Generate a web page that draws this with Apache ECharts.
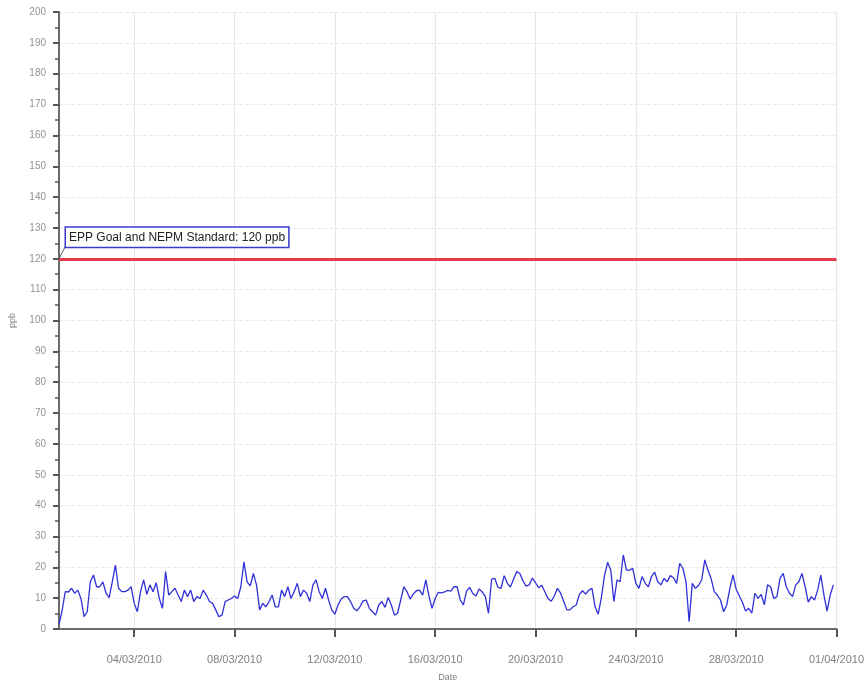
<!DOCTYPE html>
<html>
<head>
<meta charset="utf-8">
<script src="https://cdn.jsdelivr.net/npm/echarts@6/dist/echarts.min.js"></script>
<style>
html,body{margin:0;padding:0;background:#fff;}
#chart{width:867px;height:687px;}
</style>
</head>
<body>
<div id="chart"></div>
<script>
// ---- Data (ozone, ppb, 3-hourly from 01/03/2010 00:00) ----
var startDate = '2010-03-01';
var stepHours = 3;
var ozone = [
  1.5, 6, 12.1, 12, 13.2, 11.6, 12.6, 9.9, 4, 5.6, 15.3, 17.5, 13.7, 13.7, 15.3, 11.6,
  10.2, 15.3, 20.7, 13.2, 12.1, 12.1, 12.6, 13.7, 8.3, 5.6, 12.1, 15.9, 11.2, 14.3, 12.1, 15,
  9.9, 6.7, 18.6, 11, 12.1, 13.2, 11, 8.9, 12.6, 10.5, 12.6, 8.9, 10.5, 9.9, 12.6, 11,
  8.9, 8.3, 6.2, 4, 4.5, 8.9, 9.4, 9.9, 10.7, 9.9, 13.7, 21.8, 15.3, 14, 18, 14.3,
  6.2, 8.3, 7.2, 8.9, 11, 7.2, 7.2, 12.6, 10.5, 13.7, 9.9, 12.1, 14.8, 10.5, 12.6, 11.6,
  8.9, 14.3, 15.9,
  12.1, 9.9, 13.2, 9.4, 6.2, 4.8, 7.8, 9.7, 10.5, 10.5, 8.9, 6.7, 5.9, 7.2, 9.1, 9.4,
  6.7, 5.6, 4.5, 7.8, 8.9, 7, 10.2, 7.8, 4.5, 5.1, 9.4, 13.7, 12.1, 9.7, 11.3, 12.4,
  12.6, 11, 15.9, 10.7, 6.7, 9.9, 11.9, 11.7, 12, 12.5, 12.3, 13.7, 13.7, 9.4, 7.8, 12.3,
  13.5, 11.5, 10.7, 13, 12, 10.5, 5.1, 16.2, 16.4, 13.6, 13.2, 17.3, 14.8, 13.6, 16.1, 18.6,
  18, 15.6, 13.9, 14.3, 16.5, 15, 13.4, 14.2, 12, 9.9, 9, 10.7, 13.2, 11.6, 8.9, 6.2,
  6.2, 7.2, 7.8,
  11.2, 12.4, 11.3, 12.6, 13.2, 7.2, 4.8, 10.2, 17.3, 21.6, 19.1, 8.9, 15.9, 15.3, 24, 19.1,
  19.1, 19.7, 14.8, 13.2, 17, 14.8, 13.7, 17, 18.4, 15.3, 14.3, 16.4, 15.3, 17.3, 16.6, 14.8,
  21.3, 19.7, 15.3, 2.4, 14.8, 13.2, 14.1, 15.9, 22.4, 19.1, 16.4, 12.1, 11, 9.4, 5.6, 7.8,
  13.2, 17.5, 12.9, 10.8, 8.7, 5.8, 6.7, 5.1, 11.6, 9.9, 11.2, 7.8, 14.3, 13.7, 9.9, 10.5,
  16.4, 18, 13.7, 11.6, 10.5, 14.3, 15.3, 18, 13.7, 8.7, 10.5, 9.4, 12.6, 17.5, 11, 5.8,
  11, 14.3
];
var standardValue = 120;
var standardLabel = 'EPP Goal and NEPM Standard: 120 ppb';
var yAxisName = 'ppb';
var xAxisName = 'Date';

// ---- Build categories (one extra for the axis end, 01/04/2010) ----
function pad(n){ return (n < 10 ? '0' : '') + n; }
var categories = [];
var t0 = Date.UTC(2010, 2, 1, 0, 0, 0);
for (var i = 0; i <= ozone.length; i++) {
  var d = new Date(t0 + i * stepHours * 3600 * 1000);
  categories.push(pad(d.getUTCDate()) + '/' + pad(d.getUTCMonth() + 1) + '/' + d.getUTCFullYear() + ' ' + pad(d.getUTCHours()) + ':00');
}
var seriesData = ozone.slice();
seriesData.push(null);

var perDay = 24 / stepHours;
function isTick(idx) {
  // every 4 days starting 04/03/2010
  return idx >= 3 * perDay && (idx - 3 * perDay) % (4 * perDay) === 0;
}

var chart = echarts.init(document.getElementById('chart'), null, {renderer: 'canvas'});
chart.setOption({
  backgroundColor: '#ffffff',
  animation: false,
  grid: {left: 57, right: 29, top: 12, bottom: 58, containLabel: false},
  xAxis: {
    type: 'category',
    data: categories,
    boundaryGap: false,
    name: xAxisName,
    nameLocation: 'middle',
    nameGap: 44,
    nameTextStyle: {color: '#808080', fontSize: 9, fontFamily: 'Liberation Sans'},
    axisLine: {lineStyle: {color: '#6b6b6b', width: 2}},
    axisTick: {show: true, interval: function (idx) { return isTick(idx); }, length: 8, lineStyle: {color: '#555', width: 2}},
    axisLabel: {
      interval: function (idx) { return isTick(idx); },
      formatter: function (v) { return v.split(' ')[0]; },
      color: '#808080', fontSize: 11, margin: 25, fontFamily: 'Liberation Sans'
    },
    splitLine: {show: true, interval: function (idx) { return isTick(idx); }, lineStyle: {color: '#e6e6e6', width: 1}}
  },
  yAxis: {
    type: 'value',
    min: 0, max: 200, interval: 10,
    name: yAxisName,
    nameLocation: 'middle',
    nameGap: 42,
    nameRotate: 90,
    nameTextStyle: {color: '#808080', fontSize: 9, fontFamily: 'Liberation Sans'},
    axisLine: {show: true, lineStyle: {color: '#6b6b6b', width: 2}},
    axisTick: {show: true, length: 6, lineStyle: {color: '#555', width: 2}},
    minorTick: {show: true, splitNumber: 2, length: 4, lineStyle: {color: '#555', width: 1.5}},
    axisLabel: {color: '#939393', fontSize: 10, margin: 13, fontFamily: 'Liberation Sans'},
    splitLine: {show: true, lineStyle: {color: '#e8e8e8', type: 'dashed', width: 1}}
  },
  series: [{
    type: 'line',
    data: seriesData,
    showSymbol: false,
    symbol: 'none',
    connectNulls: false,
    lineStyle: {color: '#3030d8', width: 1.3},
    itemStyle: {color: '#3030d8'},
    markLine: {
      silent: true,
      symbol: 'none',
      animation: false,
      data: [
        {
          yAxis: standardValue,
          lineStyle: {color: '#e8384a', width: 3, type: 'solid'},
          label: {
            show: true,
            position: 'insideStartTop',
            distance: [7, 12],
            formatter: standardLabel,
            color: '#222',
            fontSize: 12,
            fontFamily: 'Liberation Sans',
            backgroundColor: '#ffffff',
            borderColor: '#3a3acc',
            borderWidth: 1.5,
            padding: [3, 3, 3, 3],
            lineHeight: 13
          }
        },
        [
          {coord: [0, standardValue], lineStyle: {color: '#555', width: 1, type: 'solid'}, label: {show: false}},
          {coord: [2, standardValue + 4]}
        ]
      ]
    }
  }]
});
</script>
</body>
</html>
